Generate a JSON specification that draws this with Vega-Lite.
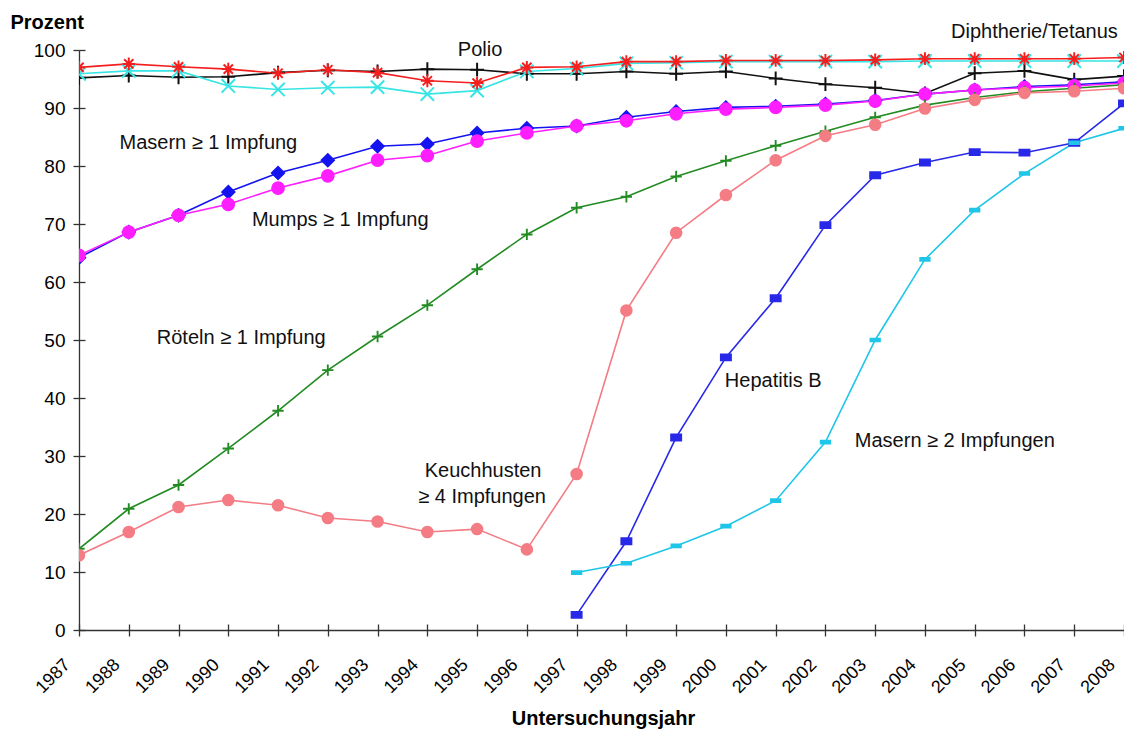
{
  "$schema": "https://vega.github.io/schema/vega-lite/v6.json",
  "autosize": {"type": "none"},
  "padding": {"left": 79, "top": 50, "right": 0, "bottom": 103},
  "width": 1045,
  "height": 580,
  "background": "white",
  "config": {"view": {"stroke": null}, "font": "Liberation Sans"},
  "datasets": {
    "series": [
      {"series":"Polio","year":1987,"value":95.2},{"series":"Polio","year":1988,"value":95.6},{"series":"Polio","year":1989,"value":95.3},{"series":"Polio","year":1990,"value":95.4},{"series":"Polio","year":1991,"value":96.1},{"series":"Polio","year":1992,"value":96.5},{"series":"Polio","year":1993,"value":96.3},{"series":"Polio","year":1994,"value":96.7},{"series":"Polio","year":1995,"value":96.6},{"series":"Polio","year":1996,"value":95.9},{"series":"Polio","year":1997,"value":95.9},{"series":"Polio","year":1998,"value":96.3},{"series":"Polio","year":1999,"value":95.9},{"series":"Polio","year":2000,"value":96.3},{"series":"Polio","year":2001,"value":95.1},{"series":"Polio","year":2002,"value":94.1},{"series":"Polio","year":2003,"value":93.5},{"series":"Polio","year":2004,"value":92.5},{"series":"Polio","year":2005,"value":96.0},{"series":"Polio","year":2006,"value":96.4},{"series":"Polio","year":2007,"value":94.9},{"series":"Polio","year":2008,"value":95.5},
      {"series":"Diphtherie","year":1987,"value":95.9},{"series":"Diphtherie","year":1988,"value":96.4},{"series":"Diphtherie","year":1989,"value":96.4},{"series":"Diphtherie","year":1990,"value":93.8},{"series":"Diphtherie","year":1991,"value":93.2},{"series":"Diphtherie","year":1992,"value":93.5},{"series":"Diphtherie","year":1993,"value":93.6},{"series":"Diphtherie","year":1994,"value":92.4},{"series":"Diphtherie","year":1995,"value":93.0},{"series":"Diphtherie","year":1996,"value":96.3},{"series":"Diphtherie","year":1997,"value":96.8},{"series":"Diphtherie","year":1998,"value":97.7},{"series":"Diphtherie","year":1999,"value":97.8},{"series":"Diphtherie","year":2000,"value":98.0},{"series":"Diphtherie","year":2001,"value":98.0},{"series":"Diphtherie","year":2002,"value":98.0},{"series":"Diphtherie","year":2003,"value":98.0},{"series":"Diphtherie","year":2004,"value":98.1},{"series":"Diphtherie","year":2005,"value":98.1},{"series":"Diphtherie","year":2006,"value":98.1},{"series":"Diphtherie","year":2007,"value":98.1},{"series":"Diphtherie","year":2008,"value":98.1},
      {"series":"Tetanus","year":1987,"value":97.0},{"series":"Tetanus","year":1988,"value":97.6},{"series":"Tetanus","year":1989,"value":97.1},{"series":"Tetanus","year":1990,"value":96.7},{"series":"Tetanus","year":1991,"value":96.0},{"series":"Tetanus","year":1992,"value":96.6},{"series":"Tetanus","year":1993,"value":96.1},{"series":"Tetanus","year":1994,"value":94.7},{"series":"Tetanus","year":1995,"value":94.3},{"series":"Tetanus","year":1996,"value":97.0},{"series":"Tetanus","year":1997,"value":97.1},{"series":"Tetanus","year":1998,"value":98.0},{"series":"Tetanus","year":1999,"value":98.0},{"series":"Tetanus","year":2000,"value":98.2},{"series":"Tetanus","year":2001,"value":98.2},{"series":"Tetanus","year":2002,"value":98.2},{"series":"Tetanus","year":2003,"value":98.3},{"series":"Tetanus","year":2004,"value":98.5},{"series":"Tetanus","year":2005,"value":98.5},{"series":"Tetanus","year":2006,"value":98.5},{"series":"Tetanus","year":2007,"value":98.5},{"series":"Tetanus","year":2008,"value":98.7},
      {"series":"Masern1","year":1987,"value":64.2},{"series":"Masern1","year":1988,"value":68.6},{"series":"Masern1","year":1989,"value":71.5},{"series":"Masern1","year":1990,"value":75.5},{"series":"Masern1","year":1991,"value":78.8},{"series":"Masern1","year":1992,"value":81.0},{"series":"Masern1","year":1993,"value":83.4},{"series":"Masern1","year":1994,"value":83.8},{"series":"Masern1","year":1995,"value":85.7},{"series":"Masern1","year":1996,"value":86.5},{"series":"Masern1","year":1997,"value":86.9},{"series":"Masern1","year":1998,"value":88.4},{"series":"Masern1","year":1999,"value":89.4},{"series":"Masern1","year":2000,"value":90.1},{"series":"Masern1","year":2001,"value":90.3},{"series":"Masern1","year":2002,"value":90.7},{"series":"Masern1","year":2003,"value":91.3},{"series":"Masern1","year":2004,"value":92.4},{"series":"Masern1","year":2005,"value":93.1},{"series":"Masern1","year":2006,"value":93.7},{"series":"Masern1","year":2007,"value":94.0},{"series":"Masern1","year":2008,"value":94.5},
      {"series":"Mumps","year":1987,"value":64.6},{"series":"Mumps","year":1988,"value":68.6},{"series":"Mumps","year":1989,"value":71.5},{"series":"Mumps","year":1990,"value":73.4},{"series":"Mumps","year":1991,"value":76.2},{"series":"Mumps","year":1992,"value":78.3},{"series":"Mumps","year":1993,"value":81.0},{"series":"Mumps","year":1994,"value":81.8},{"series":"Mumps","year":1995,"value":84.3},{"series":"Mumps","year":1996,"value":85.7},{"series":"Mumps","year":1997,"value":86.9},{"series":"Mumps","year":1998,"value":87.8},{"series":"Mumps","year":1999,"value":89.0},{"series":"Mumps","year":2000,"value":89.8},{"series":"Mumps","year":2001,"value":90.1},{"series":"Mumps","year":2002,"value":90.5},{"series":"Mumps","year":2003,"value":91.2},{"series":"Mumps","year":2004,"value":92.4},{"series":"Mumps","year":2005,"value":93.1},{"series":"Mumps","year":2006,"value":93.5},{"series":"Mumps","year":2007,"value":93.8},{"series":"Mumps","year":2008,"value":94.3},
      {"series":"Röteln","year":1987,"value":14.0},{"series":"Röteln","year":1988,"value":20.9},{"series":"Röteln","year":1989,"value":25.0},{"series":"Röteln","year":1990,"value":31.3},{"series":"Röteln","year":1991,"value":37.8},{"series":"Röteln","year":1992,"value":44.8},{"series":"Röteln","year":1993,"value":50.6},{"series":"Röteln","year":1994,"value":56.0},{"series":"Röteln","year":1995,"value":62.2},{"series":"Röteln","year":1996,"value":68.2},{"series":"Röteln","year":1997,"value":72.8},{"series":"Röteln","year":1998,"value":74.7},{"series":"Röteln","year":1999,"value":78.2},{"series":"Röteln","year":2000,"value":80.9},{"series":"Röteln","year":2001,"value":83.5},{"series":"Röteln","year":2002,"value":86.0},{"series":"Röteln","year":2003,"value":88.4},{"series":"Röteln","year":2004,"value":90.5},{"series":"Röteln","year":2005,"value":91.8},{"series":"Röteln","year":2006,"value":92.8},{"series":"Röteln","year":2007,"value":93.4},{"series":"Röteln","year":2008,"value":94.0},
      {"series":"Keuchhusten","year":1987,"value":12.9},{"series":"Keuchhusten","year":1988,"value":16.9},{"series":"Keuchhusten","year":1989,"value":21.2},{"series":"Keuchhusten","year":1990,"value":22.4},{"series":"Keuchhusten","year":1991,"value":21.5},{"series":"Keuchhusten","year":1992,"value":19.3},{"series":"Keuchhusten","year":1993,"value":18.7},{"series":"Keuchhusten","year":1994,"value":16.9},{"series":"Keuchhusten","year":1995,"value":17.4},{"series":"Keuchhusten","year":1996,"value":13.9},{"series":"Keuchhusten","year":1997,"value":26.9},{"series":"Keuchhusten","year":1998,"value":55.1},{"series":"Keuchhusten","year":1999,"value":68.5},{"series":"Keuchhusten","year":2000,"value":75.0},{"series":"Keuchhusten","year":2001,"value":81.0},{"series":"Keuchhusten","year":2002,"value":85.2},{"series":"Keuchhusten","year":2003,"value":87.1},{"series":"Keuchhusten","year":2004,"value":89.9},{"series":"Keuchhusten","year":2005,"value":91.4},{"series":"Keuchhusten","year":2006,"value":92.6},{"series":"Keuchhusten","year":2007,"value":92.9},{"series":"Keuchhusten","year":2008,"value":93.4},
      {"series":"HepB","year":1997,"value":2.6},{"series":"HepB","year":1998,"value":15.3},{"series":"HepB","year":1999,"value":33.2},{"series":"HepB","year":2000,"value":47.0},{"series":"HepB","year":2001,"value":57.2},{"series":"HepB","year":2002,"value":69.8},{"series":"HepB","year":2003,"value":78.4},{"series":"HepB","year":2004,"value":80.6},{"series":"HepB","year":2005,"value":82.4},{"series":"HepB","year":2006,"value":82.3},{"series":"HepB","year":2007,"value":84.0},{"series":"HepB","year":2008,"value":90.8},
      {"series":"Masern2","year":1997,"value":9.9},{"series":"Masern2","year":1998,"value":11.5},{"series":"Masern2","year":1999,"value":14.5},{"series":"Masern2","year":2000,"value":17.9},{"series":"Masern2","year":2001,"value":22.3},{"series":"Masern2","year":2002,"value":32.4},{"series":"Masern2","year":2003,"value":50.0},{"series":"Masern2","year":2004,"value":63.9},{"series":"Masern2","year":2005,"value":72.4},{"series":"Masern2","year":2006,"value":78.7},{"series":"Masern2","year":2007,"value":84.0},{"series":"Masern2","year":2008,"value":86.5}
    ],
    "labels": [
      {"label":"Polio","year":1995.06,"value":100.0},
      {"label":"Diphtherie/Tetanus","year":2006.2,"value":103.1},
      {"label":"Masern ≥ 1 Impfung","year":1989.6,"value":84.0},
      {"label":"Mumps ≥ 1 Impfung","year":1992.25,"value":70.7},
      {"label":"Röteln ≥ 1 Impfung","year":1990.26,"value":50.3},
      {"label":"Keuchhusten","year":1995.12,"value":27.4},
      {"label":"≥ 4 Impfungen","year":1995.1,"value":22.9},
      {"label":"Hepatitis B","year":2000.95,"value":42.9},
      {"label":"Masern ≥ 2 Impfungen","year":2004.6,"value":32.6}
    ]
  },
  "layer": [
    {
      "data": {"name": "series"},
      "mark": {"type": "line", "strokeWidth": 1.6, "clip": true},
      "encoding": {
        "x": {"field": "year", "type": "quantitative",
              "scale": {"domain": [1987, 2008], "nice": false, "zero": false},
              "axis": {"values": [1987,1988,1989,1990,1991,1992,1993,1994,1995,1996,1997,1998,1999,2000,2001,2002,2003,2004,2005,2006,2007,2008],
                       "format": "d", "grid": false, "labelAngle": -45, "labelAlign": "right", "labelBaseline": "middle",
                       "labelFontSize": 18, "labelColor": "#000", "labelPadding": 26, "labelOffset": -12,
                       "tickSize": 6, "tickColor": "#333", "domainColor": "#333", "domainWidth": 1.3, "tickWidth": 1.3,
                       "labelOverlap": false, "labelBound": false, "labelFlush": false,
                       "title": "Untersuchungsjahr", "titleFontSize": 20, "titleFontWeight": "bold", "titleColor": "#000",
                       "titleBaseline": "middle", "titleY": 88, "titleX": 524}},
        "y": {"field": "value", "type": "quantitative",
              "scale": {"domain": [0, 100], "nice": false},
              "axis": {"values": [0,10,20,30,40,50,60,70,80,90,100], "grid": false,
                       "labelFontSize": 19, "labelColor": "#000", "labelPadding": 8,
                       "tickSize": 6, "tickColor": "#333", "domainColor": "#333", "domainWidth": 1.3, "tickWidth": 1.3,
                       "title": "Prozent", "titleAngle": 0, "titleFontSize": 20, "titleFontWeight": "bold", "titleColor": "#000",
                       "titleAlign": "left", "titleBaseline": "middle", "titleX": -69, "titleY": -28}},
        "color": {"field": "series", "type": "nominal", "legend": null,
                  "scale": {"domain": ["Polio","Diphtherie","Tetanus","Masern1","Mumps","Röteln","Keuchhusten","HepB","Masern2"],
                            "range": ["#111111","#38E4E4","#F41E1E","#1414F0","#FF1EFF","#228B22","#F47C84","#2828E8","#1EC6E8"]}},
        "detail": {"field": "series"}
      }
    },
    {
      "data": {"name": "series"},
      "mark": {"type": "point", "clip": true, "opacity": 1},
      "encoding": {
        "x": {"field": "year", "type": "quantitative", "axis": null},
        "y": {"field": "value", "type": "quantitative", "axis": null},
        "shape": {"field": "series", "type": "nominal", "legend": null,
                  "scale": {"domain": ["Polio","Diphtherie","Tetanus","Masern1","Mumps","Röteln","Keuchhusten","HepB","Masern2"],
                            "range": ["M-1,0H1M0,-1V1", "M-1,-1L1,1M-1,1L1,-1", "M-1,0H1M0,-1V1M-0.72,-0.72L0.72,0.72M-0.72,0.72L0.72,-0.72", "diamond", "circle", "M-1,0H1M0,-1V1", "circle", "M-1,-0.6H1V0.6H-1Z", "M-1,-0.3H1V0.3H-1Z"]}},
        "size": {"field": "series", "type": "nominal", "legend": null,
                 "scale": {"domain": ["Polio","Diphtherie","Tetanus","Masern1","Mumps","Röteln","Keuchhusten","HepB","Masern2"],
                           "range": [190, 90, 170, 40, 42, 90, 48, 32, 130]}},
        "fill": {"field": "series", "type": "nominal", "legend": null,
                 "scale": {"domain": ["Polio","Diphtherie","Tetanus","Masern1","Mumps","Röteln","Keuchhusten","HepB","Masern2"],
                           "range": ["#111111","#38E4E4","#F41E1E","#1414F0","#FF1EFF","#228B22","#F47C84","#2828E8","#1EC6E8"]}},
        "stroke": {"field": "series", "type": "nominal", "legend": null,
                   "scale": {"domain": ["Polio","Diphtherie","Tetanus","Masern1","Mumps","Röteln","Keuchhusten","HepB","Masern2"],
                             "range": ["#111111","#38E4E4","#F41E1E","#1414F0","#FF1EFF","#228B22","#F47C84","#2828E8","#1EC6E8"]}},
        "strokeWidth": {"field": "series", "type": "nominal", "legend": null,
                        "scale": {"domain": ["Polio","Diphtherie","Tetanus","Masern1","Mumps","Röteln","Keuchhusten","HepB","Masern2"],
                                  "range": [2, 1.8, 1.8, 1, 1, 3, 1, 0.3, 0.3]}},
        "detail": {"field": "series"}
      }
    },
    {
      "data": {"name": "labels"},
      "mark": {"type": "text", "fontSize": 20, "color": "#111", "align": "center", "baseline": "middle"},
      "encoding": {
        "x": {"field": "year", "type": "quantitative", "axis": null},
        "y": {"field": "value", "type": "quantitative", "axis": null},
        "text": {"field": "label"}
      }
    },
    {
      "data": {"values": [{"year": 1987, "value": 0}]},
      "mark": {"type": "point", "opacity": 0},
      "encoding": {
        "x": {"field": "year", "type": "quantitative",
              "axis": {"orient": "bottom", "values": [1987,1988,1989,1990,1991,1992,1993,1994,1995,1996,1997,1998,1999,2000,2001,2002,2003,2004,2005,2006,2007,2008],
                       "labels": false, "domain": false, "grid": false, "title": null, "tickSize": -6, "tickColor": "#333", "tickWidth": 1.3}},
        "y": {"field": "value", "type": "quantitative",
              "axis": {"orient": "left", "values": [0,10,20,30,40,50,60,70,80,90,100],
                       "labels": false, "domain": false, "grid": false, "title": null, "tickSize": -6, "tickColor": "#333", "tickWidth": 1.3}}
      }
    }
  ],
  "resolve": {"axis": {"x": "independent", "y": "independent"}}
}
